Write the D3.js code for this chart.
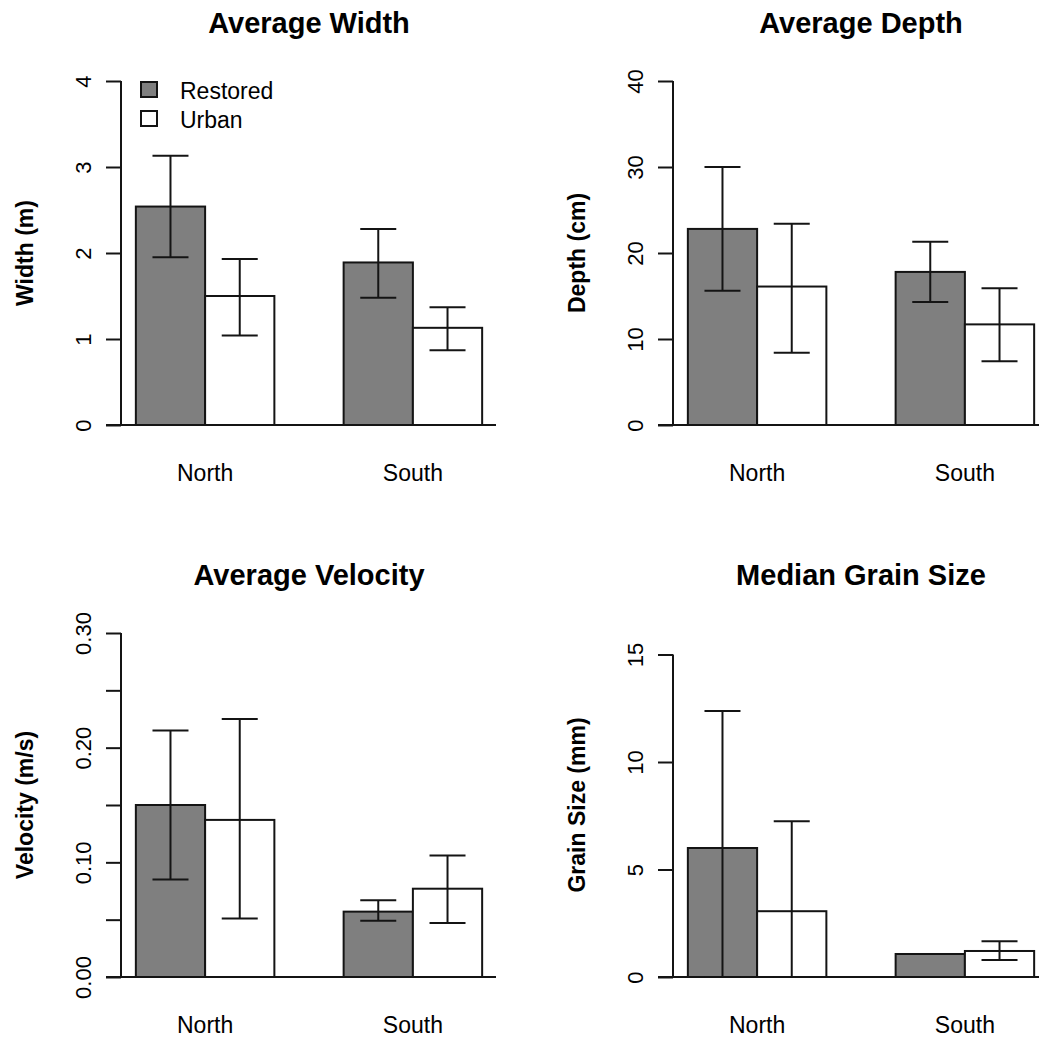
<!DOCTYPE html>
<html>
<head>
<meta charset="utf-8">
<script src="https://cdn.jsdelivr.net/npm/d3@7"></script>
<style>
  html, body { margin: 0; padding: 0; background: #fff; }
  svg { display: block; font-family: "Liberation Sans", Arial, Helvetica, sans-serif; }
</style>
</head>
<body>
<svg id="chart" width="1039" height="1041"></svg>
<script>
// Sites and treatments (bars are ordered North-Restored, North-Urban, South-Restored, South-Urban)
const groups = ["North", "South"];
const treatments = ["Restored", "Urban"];

// Average width (m)
const widthMean  = [2.54, 1.50, 1.89, 1.13];
const widthLower = [1.95, 1.04, 1.48, 0.87];
const widthUpper = [3.13, 1.93, 2.28, 1.37];
const widthTicks = [0, 1, 2, 3, 4];
const widthTickLabels = ["0", "1", "2", "3", "4"];

// Average depth (cm)
const depthMean  = [22.8, 16.1, 17.8, 11.7];
const depthLower = [15.6, 8.4, 14.3, 7.4];
const depthUpper = [30.0, 23.4, 21.3, 15.9];
const depthTicks = [0, 10, 20, 30, 40];
const depthTickLabels = ["0", "10", "20", "30", "40"];

// Average velocity (m/s)
const velocityMean  = [0.150, 0.137, 0.057, 0.077];
const velocityLower = [0.085, 0.051, 0.049, 0.047];
const velocityUpper = [0.215, 0.225, 0.067, 0.106];
const velocityTicks = [0, 0.05, 0.10, 0.15, 0.20, 0.25, 0.30];
const velocityTickLabels = ["0.00", "", "0.10", "", "0.20", "", "0.30"];

// Median grain size (mm)
const grainMean  = [6.0, 3.06, 1.07, 1.21];
const grainLower = [0, 0, 1.07, 0.79];
const grainUpper = [12.37, 7.24, 1.07, 1.66];
const grainTicks = [0, 5, 10, 15];
const grainTickLabels = ["0", "5", "10", "15"];

const panels = [
  { title: "Average Width", ylab: "Width (m)", mean: widthMean, lower: widthLower, upper: widthUpper,
    ticks: widthTicks, tickLabels: widthTickLabels, ymax: 4, col: 0, row: 0, legend: true },
  { title: "Average Depth", ylab: "Depth (cm)", mean: depthMean, lower: depthLower, upper: depthUpper,
    ticks: depthTicks, tickLabels: depthTickLabels, ymax: 40, col: 1, row: 0 },
  { title: "Average Velocity", ylab: "Velocity (m/s)", mean: velocityMean, lower: velocityLower, upper: velocityUpper,
    ticks: velocityTicks, tickLabels: velocityTickLabels, ymax: 0.30, col: 0, row: 1 },
  { title: "Median Grain Size", ylab: "Grain Size (mm)", mean: grainMean, lower: grainLower, upper: grainUpper,
    ticks: grainTicks, tickLabels: grainTickLabels, ymax: 16, col: 1, row: 1 }
];

const fills = { Restored: "#7f7f7f", Urban: "#ffffff" };
const ink = "#141414";
const lw = 2;
const panelStep = 552;
const capHalf = 18;
const tickLen = 15;

const svg = d3.select("#chart");

// bar layout in bar-width units: groups occupy [1,3] and [4,6]
const barStart = [1, 2, 4, 5];

panels.forEach(p => {
  const ox = p.col * panelStep, oy = p.row * panelStep;
  const g = svg.append("g").attr("transform", `translate(${ox},${oy})`);

  const x = d3.scaleLinear().domain([0.8, 6.2]).range([122, 496]);
  const y = d3.scaleLinear().domain([0, p.ymax]).range([425, 81]);
  const axisX = x(0.8) - 1;

  // title
  g.append("text")
    .attr("x", (x(0.8) + x(6.2)) / 2).attr("y", 33)
    .attr("text-anchor", "middle")
    .attr("font-size", 29).attr("font-weight", "bold").attr("fill", "#000")
    .text(p.title);

  // y axis label
  g.append("text")
    .attr("transform", `translate(${axisX - 88},${y(p.ymax / 2)}) rotate(-90)`)
    .attr("text-anchor", "middle")
    .attr("font-size", 23).attr("font-weight", "bold").attr("fill", "#000")
    .text(p.ylab);

  // bars
  const bars = p.mean.map((v, i) => ({
    v, lo: p.lower[i], hi: p.upper[i], x0: barStart[i],
    treatment: treatments[i % 2]
  }));

  g.selectAll("rect.bar").data(bars).enter().append("rect")
    .attr("class", "bar")
    .attr("x", d => x(d.x0))
    .attr("width", d => x(d.x0 + 1) - x(d.x0))
    .attr("y", d => y(d.v))
    .attr("height", d => y(0) - y(d.v))
    .attr("fill", d => fills[d.treatment])
    .attr("stroke", ink).attr("stroke-width", lw);

  // baseline across the plot
  g.append("line")
    .attr("x1", axisX - tickLen).attr("x2", x(6.2))
    .attr("y1", y(0)).attr("y2", y(0))
    .attr("stroke", ink).attr("stroke-width", lw);

  // y axis
  const yAxis = d3.axisLeft(y)
    .tickValues(p.ticks)
    .tickSize(tickLen)
    .tickSizeOuter(0)
    .tickFormat((d, i) => p.tickLabels[i]);
  const ax = g.append("g").attr("transform", `translate(${axisX},0)`).call(yAxis);
  ax.select(".domain")
    .attr("d", `M0,${y(p.ticks[0])}V${y(p.ticks[p.ticks.length - 1])}`)
    .attr("stroke", ink).attr("stroke-width", lw);
  ax.selectAll(".tick line").attr("stroke", ink).attr("stroke-width", lw);
  ax.selectAll(".tick text")
    .attr("x", null).attr("dy", null)
    .attr("transform", "translate(-30,0) rotate(-90)")
    .attr("text-anchor", "middle")
    .attr("font-size", 22)
    .attr("font-family", "\"Liberation Sans\", Arial, sans-serif")
    .attr("fill", "#000");

  // error bars
  const eb = g.selectAll("g.err").data(bars.filter(d => d.hi > d.lo)).enter()
    .append("g").attr("class", "err");
  eb.append("line")
    .attr("x1", d => x(d.x0 + 0.5)).attr("x2", d => x(d.x0 + 0.5))
    .attr("y1", d => y(d.lo)).attr("y2", d => y(d.hi))
    .attr("stroke", ink).attr("stroke-width", lw);
  ["lo", "hi"].forEach(k => {
    eb.append("line")
      .attr("x1", d => x(d.x0 + 0.5) - capHalf).attr("x2", d => x(d.x0 + 0.5) + capHalf)
      .attr("y1", d => y(d[k])).attr("y2", d => y(d[k]))
      .attr("stroke", ink).attr("stroke-width", lw);
  });

  // group labels
  g.selectAll("text.grp").data(groups).enter().append("text")
    .attr("class", "grp")
    .attr("x", (d, i) => x(barStart[i * 2] + 1))
    .attr("y", 481)
    .attr("text-anchor", "middle")
    .attr("font-size", 23).attr("fill", "#000")
    .text(d => d);

  // legend
  if (p.legend) {
    const lg = g.append("g");
    treatments.forEach((t, i) => {
      lg.append("rect")
        .attr("x", 141).attr("y", 82 + i * 29)
        .attr("width", 16).attr("height", 15)
        .attr("fill", fills[t]).attr("stroke", ink).attr("stroke-width", lw);
      lg.append("text")
        .attr("x", 180).attr("y", 99 + i * 29)
        .attr("font-size", 23).attr("fill", "#000")
        .text(t);
    });
  }
});
</script>
</body>
</html>
